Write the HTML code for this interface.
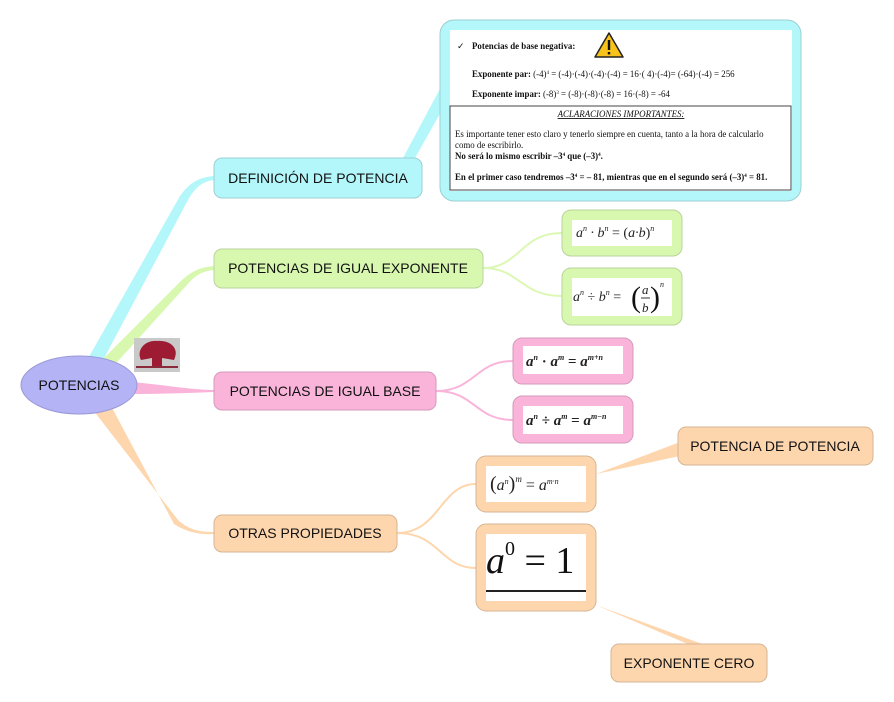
<!DOCTYPE html>
<html><head><meta charset="utf-8"><style>
body{margin:0;background:#fff;}
svg{display:block;}
.t{font-family:"Liberation Sans",sans-serif;font-size:14px;fill:#111;}
.s{font-family:"Liberation Serif",serif;fill:#111;}
.m{font-family:"Liberation Serif",serif;font-style:italic;fill:#222;}
</style></head><body>
<svg width="894" height="702" viewBox="0 0 894 702" xmlns="http://www.w3.org/2000/svg">
<path d="M86,362 L180,196 C190,182 200,177 214,176 L214,180 C204,181 196,186 188,200 L100,366 Z" fill="#b4f7fb"/>
<path d="M98,364 L180,282 C192,270 202,267 214,266 L214,270 C204,271 196,274 186,286 L110,370 Z" fill="#d8f8b0"/>
<path d="M130,382 C160,384 190,390 214,390 L214,392 C190,393 160,394 130,394 Z" fill="#fab4da"/>
<path d="M90,406 L178,520 C190,531 202,532 214,532 L214,534 C200,535 186,532 174,524 L110,404 Z" fill="#fdd6ae"/>
<g fill="none" stroke-width="2">
<path d="M483,268 C520,268 520,233 562,233" stroke="#dcf8b4"/>
<path d="M483,268 C520,268 520,296 562,296" stroke="#dcf8b4"/>
<path d="M436,391 C475,391 475,361 513,361" stroke="#fab4da"/>
<path d="M436,391 C475,391 475,420 513,420" stroke="#fab4da"/>
<path d="M397,533 C440,533 440,484 476,484" stroke="#fdd6ae"/>
<path d="M397,533 C440,533 440,568 476,568" stroke="#fdd6ae"/>
</g>
<path d="M403,158 L442,85 L442,110 L415,158 Z" fill="#b4f7fb"/>
<path d="M596,474 L680,442 L680,456 Z" fill="#fdd6ae"/>
<path d="M596,605 L690,645 L705,645 Z" fill="#fdd6ae"/>
<ellipse cx="79" cy="385" rx="58" ry="29" fill="#b3b3f6" stroke="#9a9ad6"/>
<text x="79" y="390" text-anchor="middle" class="t">POTENCIAS</text>
<rect x="134" y="338" width="46" height="34" fill="#c9c9c9"/>
<path d="M141,360 C136,350 145,340 157,341 C170,340 180,348 174,360 L162,358 L162,368 L152,368 L152,358 Z" fill="#9e1b34"/>
<rect x="136" y="366" width="42" height="2" fill="#8a2a3a"/>
<rect x="214" y="158" width="208" height="40" rx="8" fill="#b4f7fb" stroke="#9ccfd3"/>
<text x="318" y="183" text-anchor="middle" class="t">DEFINICIÓN DE POTENCIA</text>
<rect x="214" y="249" width="269" height="39" rx="8" fill="#d8f8b0" stroke="#b9d39a"/>
<text x="348" y="273" text-anchor="middle" class="t">POTENCIAS DE IGUAL EXPONENTE</text>
<rect x="214" y="372" width="222" height="38" rx="8" fill="#fab4da" stroke="#d49abb"/>
<text x="325" y="396" text-anchor="middle" class="t">POTENCIAS DE IGUAL BASE</text>
<rect x="214" y="515" width="183" height="37" rx="8" fill="#fdd6ae" stroke="#d5b594"/>
<text x="305" y="538" text-anchor="middle" class="t">OTRAS PROPIEDADES</text>
<rect x="678" y="427" width="195" height="38" rx="8" fill="#fdd6ae" stroke="#d5b594"/>
<text x="775" y="451" text-anchor="middle" class="t">POTENCIA DE POTENCIA</text>
<rect x="611" y="644" width="156" height="38" rx="8" fill="#fdd6ae" stroke="#d5b594"/>
<text x="689" y="668" text-anchor="middle" class="t">EXPONENTE CERO</text>
<rect x="562" y="210" width="120" height="46" rx="9" fill="#d8f8b0" stroke="#b9d39a"/>
<rect x="572" y="220" width="100" height="26" fill="#fff"/>
<text x="576" y="237" class="m" font-size="14">a<tspan font-size="8" dy="-6">n</tspan><tspan dy="6"> · b</tspan><tspan font-size="8" dy="-6">n</tspan><tspan dy="6" font-style="normal"> = (</tspan>a·b<tspan font-style="normal">)</tspan><tspan font-size="8" dy="-6">n</tspan></text>
<rect x="562" y="268" width="120" height="57" rx="9" fill="#d8f8b0" stroke="#b9d39a"/>
<rect x="572" y="278" width="100" height="38" fill="#fff"/>
<text x="573" y="301" class="m" font-size="14">a<tspan font-size="8" dy="-6">n</tspan><tspan dy="6" font-style="normal"> ÷ </tspan>b<tspan font-size="8" dy="-6">n</tspan><tspan dy="6" font-style="normal"> = </tspan></text>
<text x="631" y="307" class="s" font-size="30" fill="#333">(</text>
<text x="650" y="307" class="s" font-size="30" fill="#333">)</text>
<text x="642" y="294" class="m" font-size="13">a</text>
<line x1="641" y1="298" x2="650" y2="298" stroke="#333"/>
<text x="642" y="312" class="m" font-size="13">b</text>
<text x="660" y="287" class="m" font-size="8">n</text>
<rect x="513" y="338" width="120" height="46" rx="9" fill="#fab4da" stroke="#d49abb"/>
<rect x="523" y="346" width="100" height="28" fill="#fff"/>
<text x="526" y="366" class="m" font-size="15" font-weight="bold">a<tspan font-size="8" dy="-6">n</tspan><tspan dy="6" font-style="normal"> · </tspan>a<tspan font-size="8" dy="-6">m</tspan><tspan dy="6" font-style="normal"> = </tspan>a<tspan font-size="8" dy="-6">m+n</tspan></text>
<rect x="513" y="396" width="120" height="47" rx="9" fill="#fab4da" stroke="#d49abb"/>
<rect x="523" y="406" width="100" height="28" fill="#fff"/>
<text x="526" y="425" class="m" font-size="15" font-weight="bold">a<tspan font-size="8" dy="-6">n</tspan><tspan dy="6" font-style="normal"> ÷ </tspan>a<tspan font-size="8" dy="-6">m</tspan><tspan dy="6" font-style="normal"> = </tspan>a<tspan font-size="8" dy="-6">m−n</tspan></text>
<rect x="476" y="456" width="120" height="56" rx="10" fill="#fdd6ae" stroke="#d5b594"/>
<rect x="486" y="466" width="100" height="36" fill="#fff"/>
<text x="490" y="490" class="m" font-size="16"><tspan font-style="normal" font-size="20">(</tspan>a<tspan font-size="8" dy="-6">n</tspan><tspan dy="6" font-style="normal" font-size="20">)</tspan><tspan font-size="9" dy="-8">m</tspan><tspan dy="8" font-style="normal"> = </tspan>a<tspan font-size="8" dy="-6">m·n</tspan></text>
<rect x="476" y="524" width="120" height="87" rx="10" fill="#fdd6ae" stroke="#d5b594"/>
<rect x="486" y="534" width="100" height="67" fill="#fff"/>
<text x="486" y="573" class="s" font-size="38" fill="#111"><tspan font-style="italic">a</tspan><tspan font-size="20" dy="-18">0</tspan><tspan dy="18"> = 1</tspan></text>
<line x1="486" y1="591" x2="586" y2="591" stroke="#222" stroke-width="2"/>
<rect x="440" y="20" width="361" height="181" rx="14" fill="#b4f7fb" stroke="#9ccfd3"/>
<rect x="450" y="30" width="342" height="161" fill="#fff"/>
<g class="s" font-size="8.9">
<text x="457" y="49">✓</text>
<text x="472" y="49" font-weight="bold">Potencias de base negativa:</text>
<text x="472" y="77"><tspan font-weight="bold">Exponente par:</tspan> (-4)<tspan font-size="5" dy="-3">4</tspan><tspan dy="3"> = (-4)·(-4)·(-4)·(-4) = 16·( 4)·(-4)= (-64)·(-4) = 256</tspan></text>
<text x="472" y="97"><tspan font-weight="bold">Exponente impar:</tspan> (-8)<tspan font-size="5" dy="-3">3</tspan><tspan dy="3"> = (-8)·(-8)·(-8) = 16·(-8) = -64</tspan></text>
<text x="621" y="117" text-anchor="middle" font-style="italic" text-decoration="underline">ACLARACIONES IMPORTANTES:</text>
<text x="455" y="137">Es importante tener esto claro y tenerlo siempre en cuenta, tanto a la hora de calcularlo</text>
<text x="455" y="148">como de escribirlo.</text>
<text x="455" y="159" font-weight="bold">No será lo mismo escribir  –3<tspan font-size="5" dy="-3">4</tspan><tspan dy="3"> que (–3)</tspan><tspan font-size="5" dy="-3">4</tspan><tspan dy="3">.</tspan></text>
<text x="455" y="180" font-weight="bold">En el primer caso tendremos –3<tspan font-size="5" dy="-3">4</tspan><tspan dy="3"> = – 81, mientras que en el segundo será (–3)</tspan><tspan font-size="5" dy="-3">4</tspan><tspan dy="3"> = 81.</tspan></text>
</g>
<rect x="450" y="106" width="341" height="84" fill="none" stroke="#444" stroke-width="1"/>
<path d="M609,33 L623,57 L595,57 Z" fill="#f7c21a" stroke="#222" stroke-width="1.5" stroke-linejoin="round"/>
<rect x="607.8" y="40" width="2.4" height="10" fill="#111"/>
<rect x="607.8" y="52" width="2.4" height="2.4" fill="#111"/>
</svg>
</body></html>
